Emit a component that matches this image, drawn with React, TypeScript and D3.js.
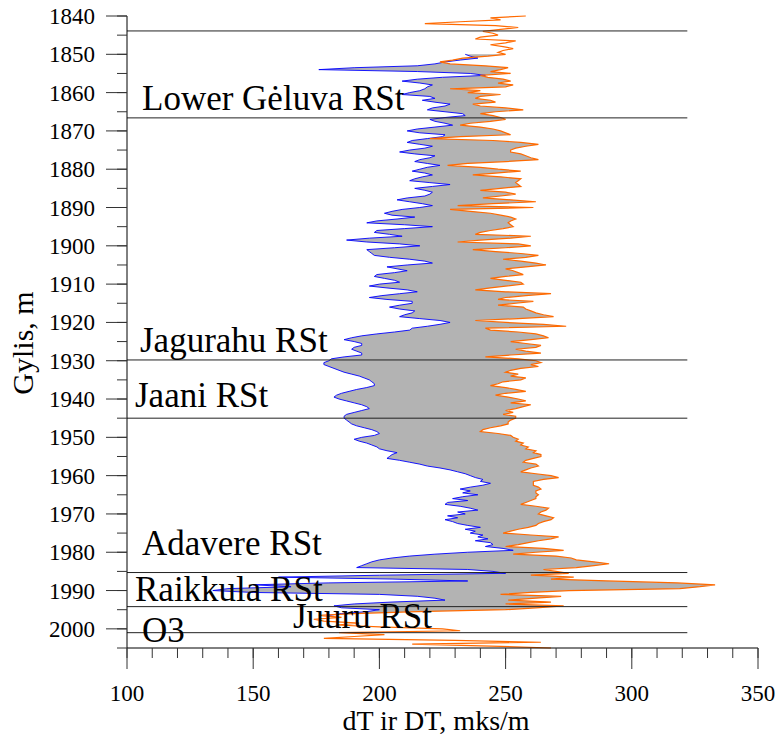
import React from 'react';
import * as d3 from 'd3';

const W = 782;
const H = 740;

// sampling of the log, metres
const topDT = 1840;
const topdT = 1850;
const step = 0.5;

// DT (orange), 1840 .. 2005 every 0.5 m
const DT = [
  258, 244, 248, 232, 218, 246, 255, 248, 241, 245,
  247, 240, 238, 254, 250, 244, 249, 253, 249, 247,
  250, 243, 233, 229, 224, 228, 242, 251, 248, 244,
  252, 240, 243, 249, 252, 247, 253, 250, 228, 240,
  235, 248, 240, 238, 244, 246, 237, 240, 250, 257,
  246, 240, 245, 248, 250, 244, 236, 232, 240, 245,
  248, 250, 252, 232, 220, 245, 256, 263, 258, 254,
  252, 252, 256, 258, 260, 263, 250, 235, 227, 240,
  247, 256, 246, 237, 248, 256, 255, 254, 255, 256,
  248, 240, 250, 254, 248, 241, 252, 262, 245, 231,
  261, 228, 236, 244, 248, 252, 254, 252, 251, 252,
  253, 249, 244, 240, 238, 260, 252, 240, 231, 255,
  260, 250, 237, 246, 256, 263, 258, 249, 256, 262,
  266, 258, 250, 253, 255, 257, 250, 244, 250, 256,
  257, 250, 244, 238, 250, 268, 258, 250, 247, 261,
  254, 247, 257, 258, 260, 262, 265, 269, 255, 238,
  250, 265, 274, 242, 244, 255, 262, 265, 267, 260,
  252, 258, 264, 262, 254, 258, 264, 252, 242, 255,
  262, 264, 260, 263, 256, 252, 250, 255, 252, 258,
  256, 249, 247, 244, 250, 254, 258, 250, 246, 251,
  255, 258, 252, 260, 257, 254, 250, 253, 249, 254,
  254, 252, 251, 251, 248, 244, 241, 240, 247, 252,
  253, 255, 254, 257, 256, 259, 258, 262, 261, 264,
  264, 261, 258, 257, 262, 263, 260, 258, 256, 262,
  268, 271, 265, 261, 261, 261, 263, 264, 262, 262,
  263, 262, 262, 260, 258, 256, 262, 267, 266, 264,
  263, 266, 269, 268, 265, 263, 262, 259, 255, 252,
  249, 260, 271, 268, 263, 259, 255, 250, 265, 273,
  262, 253, 270, 276, 278, 285, 291, 285, 278, 265,
  270, 275, 260, 277, 268, 290, 318, 333, 327, 319,
  275, 260, 248, 272, 262, 251, 268, 250, 273, 262,
  250, 215, 190, 176, 185, 174, 178, 192, 183, 200,
  225, 232, 184, 202, 190, 178, 230, 264, 213, 244,
  268,
];

// dT (blue), 1850 .. 1996.5 every 0.5 m
const dT = [
  234, 236, 239, 232, 226, 222, 215, 190, 176, 215,
  236, 242, 225, 215, 209, 216, 221, 219, 218, 216,
  212, 209, 220, 222, 217, 222, 228, 226, 221, 219,
  226, 233, 234, 226, 220, 222, 226, 229, 222, 215,
  211, 216, 226, 225, 219, 213, 211, 216, 221, 218,
  212, 208, 214, 222, 220, 216, 214, 219, 224, 219,
  216, 213, 218, 221, 217, 214, 212, 220, 228, 221,
  214, 218, 221, 220, 218, 211, 207, 212, 217, 221,
  216, 209, 205, 202, 205, 214, 207, 199, 195, 210,
  221, 210, 199, 198, 204, 209, 196, 187, 195, 208,
  216, 206, 195, 196, 197, 198, 204, 212, 218, 221,
  211, 203, 207, 211, 206, 199, 198, 202, 206, 208,
  200, 196, 203, 211, 215, 208, 201, 196, 203, 213,
  213, 208, 204, 208, 214, 213, 210, 208, 216, 224,
  228, 224, 219, 213, 212, 206, 199, 193, 189, 186,
  190, 193, 193, 190, 189, 191, 193, 193, 186, 181,
  180, 178, 178, 180, 182, 184, 186, 189, 192, 194,
  196, 197, 198, 198, 195, 191, 188, 185, 183, 182,
  184, 187, 190, 193, 195, 196, 193, 190, 187, 186,
  186, 187, 188, 189, 191, 194, 197, 199, 200, 198,
  193, 190, 192, 195, 197, 199, 200, 203, 207, 205,
  204, 203, 208, 212, 216, 219, 224, 228, 231, 234,
  236, 238, 241, 240, 244, 241, 236, 232, 236, 233,
  239, 233, 229, 235, 227, 226, 232, 236, 239, 231,
  234, 227, 231, 226, 229, 231, 235, 240, 234, 238,
  236, 241, 239, 243, 238, 244, 245, 242, 249, 253,
  235, 222, 212, 205, 200, 197, 195, 193, 191, 235,
  245, 250, 200, 160, 205, 235, 180, 150, 165, 140,
  134, 150, 200, 215, 222, 226, 205, 190, 182, 185,
  200, 195, 185, 180,
];

const formationTops = [1843.9, 1866.6, 1929.8, 1945.0, 1985.3, 1994.2, 2001.0];
const formationNames = ['Lower Gėluva RSt', 'Jagurahu RSt', 'Jaani RSt', 'Adavere RSt', 'Raikkula RSt', 'Juuru RSt', 'O3'];
const xTicks = [100, 150, 200, 250, 300, 350];
const yTicks = [1840, 1850, 1860, 1870, 1880, 1890, 1900, 1910, 1920, 1930, 1940, 1950, 1960, 1970, 1980, 1990, 2000];

// label anchors (px) for the formation names
const labelXY = [[142, 110], [140, 352], [135, 407], [142, 555], [135, 601], [293, 628], [142, 642]];

const serif = "'Liberation Serif', 'Times New Roman', serif";

export default function App() {
  const x = d3.scaleLinear().domain([100, 350]).range([127, 758]);
  const y = d3.scaleLinear().domain([1840, 2005]).range([16, 648]);

  const orange = DT.map((v, i) => ({ d: topDT + i * step, v }));
  const off = (topdT - topDT) / step;
  const both = dT.map((v, i) => ({ d: topdT + i * step, b: v, o: DT[i + off] }));

  const line = d3.line<{ d: number; v: number }>().x(p => x(p.v)).y(p => y(p.d));
  const area = d3.area<{ d: number; b: number; o: number }>()
    .y(p => y(p.d)).x0(p => x(p.b)).x1(p => x(p.o));

  const xMinor = d3.range(100, 351, 10);
  const yMinor = d3.range(1840, 2006, 5);

  return (
    <svg width={W} height={H} style={{ position: 'absolute', left: 0, top: 0, background: '#fff' }}>
      <path d={area(both) || ''} fill="#b3b3b3" stroke="none" />
      <path d={line(both.map(p => ({ d: p.d, v: p.b }))) || ''} fill="none" stroke="#0000ff" strokeWidth={0.9} />
      <path d={line(orange) || ''} fill="none" stroke="#ff6a00" strokeWidth={1.2} />

      {formationTops.map((d, i) => (
        <line key={'f' + i} x1={x(100)} x2={x(322)} y1={y(d)} y2={y(d)} stroke="#222" strokeWidth={1} />
      ))}
      {formationNames.map((t, i) => (
        <text key={'n' + i} x={labelXY[i][0]} y={labelXY[i][1]} fontFamily={serif} fontSize={35} fill="#000">{t}</text>
      ))}

      {/* y axis */}
      <line x1={127} x2={127} y1={y(1840)} y2={y(2005)} stroke="#000" strokeWidth={1} />
      {yMinor.map(v => (
        <line key={'ym' + v} x1={117} x2={127} y1={y(v)} y2={y(v)} stroke="#333" strokeWidth={1} />
      ))}
      {yTicks.map(v => (
        <g key={'y' + v}>
          <line x1={106} x2={127} y1={y(v)} y2={y(v)} stroke="#333" strokeWidth={1} />
          <text x={95} y={y(v)} dy="0.35em" textAnchor="end" fontFamily={serif} fontSize={23}>{v}</text>
        </g>
      ))}

      {/* x axis */}
      <line x1={x(100)} x2={x(350)} y1={648} y2={648} stroke="#000" strokeWidth={1} />
      {xMinor.map(v => (
        <line key={'xm' + v} x1={x(v)} x2={x(v)} y1={648} y2={658} stroke="#333" strokeWidth={1} />
      ))}
      {xTicks.map(v => (
        <g key={'x' + v}>
          <line x1={x(v)} x2={x(v)} y1={648} y2={669} stroke="#333" strokeWidth={1} />
          <text x={x(v)} y={701} textAnchor="middle" fontFamily={serif} fontSize={23}>{v}</text>
        </g>
      ))}

      <text x={436} y={730} textAnchor="middle" fontFamily={serif} fontSize={28}>dT ir DT, mks/m</text>
      <text transform="translate(33,343) rotate(-90)" textAnchor="middle" fontFamily={serif} fontSize={30}>Gylis, m</text>
    </svg>
  );
}
